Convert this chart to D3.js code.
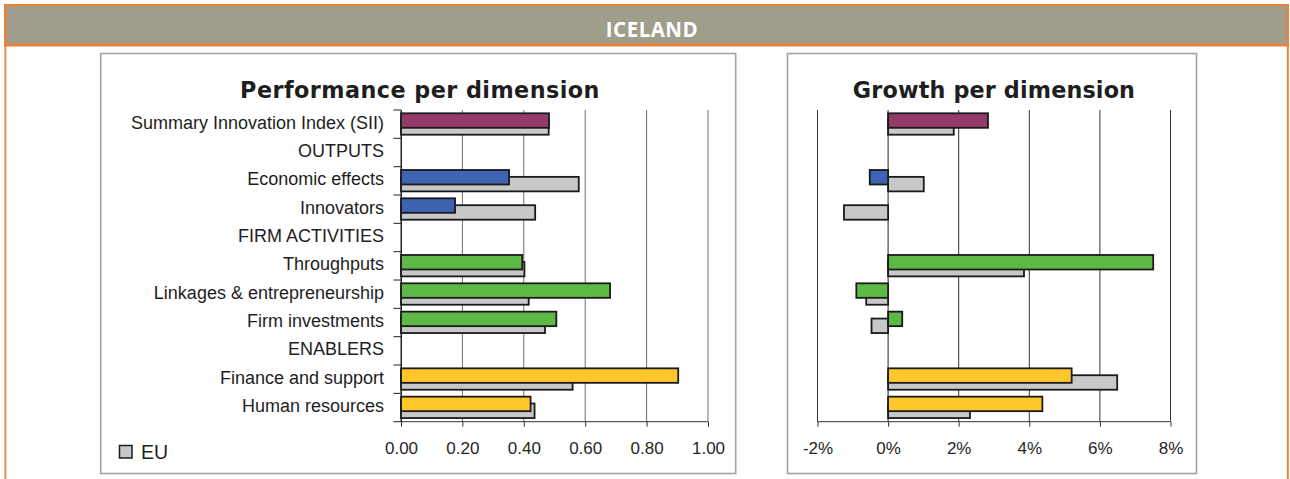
<!DOCTYPE html>
<html>
<head>
<meta charset="utf-8">
<script src="https://cdn.jsdelivr.net/npm/d3@7"></script>
<style>
  html, body { margin: 0; padding: 0; background: #fff; }
  svg { display: block; }
</style>
</head>
<body>
<svg id="chart" width="1290" height="479"></svg>
<script>
// ---------- data ----------
const countryName = "ICELAND";
const categories = [
  "Summary Innovation Index (SII)", "OUTPUTS", "Economic effects", "Innovators",
  "FIRM ACTIVITIES", "Throughputs", "Linkages & entrepreneurship", "Firm investments",
  "ENABLERS", "Finance and support", "Human resources"
];
const groups = ["sii", null, "outputs", "outputs", null, "firm", "firm", "firm", null, "enablers", "enablers"];
const perfCountry = [0.482, null, 0.352, 0.176, null, 0.395, 0.681, 0.506, null, 0.903, 0.422];
const perfEU      = [0.481, null, 0.579, 0.437, null, 0.402, 0.416, 0.469, null, 0.559, 0.435];
const growthCountry = [2.83, null, -0.52, null, null, 7.51, -0.90, 0.40, null, 5.20, 4.37];
const growthEU      = [1.86, null, 1.01, -1.25, null, 3.85, -0.62, -0.47, null, 6.49, 2.32];
const perfTicks = [0, 0.2, 0.4, 0.6, 0.8, 1.0];
const growthTicks = [-2, 0, 2, 4, 6, 8];
const legendLabel = "EU";
const titles = ["Performance per dimension", "Growth per dimension"];

const groupColors = { sii: "#943a6b", outputs: "#3e63b3", firm: "#5db846", enablers: "#ffc72c" };
const euColor = "#c8c8c8";
const orange = "#e8823a";

const svg = d3.select("#chart");

// ---------- frame & header ----------
svg.append("rect").attr("x", 4).attr("y", 4).attr("width", 1285).attr("height", 42.5).attr("fill", orange);
svg.append("rect").attr("x", 6.5).attr("y", 6.3).attr("width", 1280.2).attr("height", 37.2).attr("fill", "#9f9e8b");
svg.append("rect").attr("x", 4.5).attr("y", 46).attr("width", 1.8).attr("height", 440).attr("fill", orange);
svg.append("rect").attr("x", 1286.8).attr("y", 46).attr("width", 2).attr("height", 440).attr("fill", orange);
svg.append("text").attr("x", 652).attr("y", 36.5).attr("text-anchor", "middle")
  .attr("font-family", "'Open Sans', sans-serif").attr("font-weight", 700).attr("font-size", 20.5)
  .attr("letter-spacing", 0.5).attr("fill", "#fff").text(countryName);

// panel boxes
const boxes = [{x: 100.7, w: 635}, {x: 787.5, w: 409}];
boxes.forEach(b => {
  svg.append("rect").attr("x", b.x).attr("y", 53.5).attr("width", b.w).attr("height", 420)
    .attr("fill", "#fff").attr("stroke", "#a3a3a3").attr("stroke-width", 1.6);
});

// ---------- shared y band ----------
const y = d3.scaleBand().domain(categories).range([110, 421.7]).padding(0);
const bw = y.bandwidth();
const barH = 14.5;
const cOff = 3.3, eOff = 10.2;
const idx = d3.range(categories.length);

function drawPanel(opts) {
  const g = svg.append("g");
  const x = opts.x;
  const [x0, x1] = x.range();
  // gridlines
  g.selectAll("line.grid").data(opts.ticks).join("line")
    .attr("x1", d => x(d)).attr("x2", d => x(d)).attr("y1", 110).attr("y2", 421.7)
    .attr("stroke", d => d === 0 ? "#222" : opts.gridColor).attr("stroke-width", 1);
  // EU bars (behind)
  g.selectAll("rect.eu").data(idx.filter(i => opts.eu[i] != null)).join("rect")
    .attr("x", i => Math.min(x(0), x(opts.eu[i])))
    .attr("width", i => Math.abs(x(opts.eu[i]) - x(0)))
    .attr("y", i => y(categories[i]) + eOff).attr("height", barH)
    .attr("fill", euColor).attr("stroke", "#1a1a1a").attr("stroke-width", 1.8);
  // country bars
  g.selectAll("rect.c").data(idx.filter(i => opts.c[i] != null)).join("rect")
    .attr("x", i => Math.min(x(0), x(opts.c[i])))
    .attr("width", i => Math.abs(x(opts.c[i]) - x(0)))
    .attr("y", i => y(categories[i]) + cOff).attr("height", barH)
    .attr("fill", i => groupColors[groups[i]]).attr("stroke", "#1a1a1a").attr("stroke-width", 1.8);
  // bottom axis
  const ax = g.append("g").attr("transform", "translate(0,421.7)")
    .call(d3.axisBottom(x).tickValues(opts.ticks).tickFormat(opts.fmt).tickSize(5).tickPadding(15));
  ax.select(".domain").attr("stroke", "#333").attr("d", `M${x0},0H${x1}`);
  ax.selectAll(".tick line").attr("stroke", "#333");
  ax.selectAll(".tick text").attr("font-family", "'Liberation Sans', Arial, sans-serif")
    .attr("font-size", 17).attr("fill", "#262626");
  // title
  svg.append("text").attr("x", opts.titleX).attr("y", 98.3).attr("text-anchor", "middle")
    .attr("font-family", "'DejaVu Sans', Verdana, sans-serif").attr("font-weight", 700)
    .attr("font-size", 22.3).attr("letter-spacing", opts.titleSpacing).attr("fill", "#1e1e1e").text(opts.title);
  return g;
}

// ---------- performance panel ----------
const xPerf = d3.scaleLinear().domain([0, 1]).range([401, 708]);
drawPanel({ x: xPerf, ticks: perfTicks, c: perfCountry, eu: perfEU, gridColor: "#6e6e6e",
  fmt: d3.format(".2f"), title: titles[0], titleX: 420, titleSpacing: 0.45 });

// y axis with category labels
const yAx = svg.append("g").attr("transform", "translate(401,0)")
  .call(d3.axisLeft(y).tickSize(0).tickPadding(17));
yAx.select(".domain").attr("stroke", "#222");
yAx.selectAll(".tick text").attr("font-family", "'Liberation Sans', Arial, sans-serif")
  .attr("font-size", 18).attr("fill", "#1e1e1e").attr("dy", "0.25em");
// boundary ticks between categories
svg.append("g").selectAll("line").data(d3.range(categories.length + 1)).join("line")
  .attr("x1", 393.5).attr("x2", 401)
  .attr("y1", i => 110 + i * bw).attr("y2", i => 110 + i * bw)
  .attr("stroke", "#222").attr("stroke-width", 1);

// ---------- growth panel ----------
const xGrowth = d3.scaleLinear().domain([-2, 8]).range([817.5, 1170.5]);
drawPanel({ x: xGrowth, ticks: growthTicks, c: growthCountry, eu: growthEU, gridColor: "#333",
  fmt: d => d + "%", title: titles[1], titleX: 994, titleSpacing: 0.15 });

// ---------- legend ----------
svg.append("rect").attr("x", 119.5).attr("y", 445.5).attr("width", 12.5).attr("height", 12.5)
  .attr("fill", euColor).attr("stroke", "#1c1c1c").attr("stroke-width", 1.5);
svg.append("text").attr("x", 141).attr("y", 459)
  .attr("font-family", "'Liberation Sans', Arial, sans-serif").attr("font-size", 19.5)
  .attr("fill", "#1e1e1e").text(legendLabel);
</script>
</body>
</html>
